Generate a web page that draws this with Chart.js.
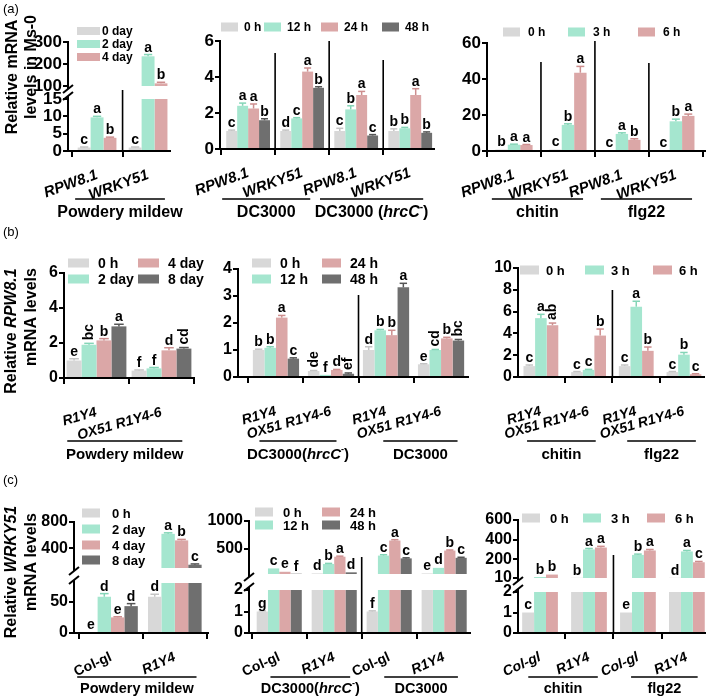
<!DOCTYPE html>
<html>
<head>
<meta charset="utf-8">
<title>Relative mRNA levels</title>
<script src="https://cdn.jsdelivr.net/npm/chart.js@4.4.1/dist/chart.umd.min.js"></script>
<style>
  body { margin: 0; background: #fff; }
  #page { position: relative; width: 709px; height: 700px; overflow: hidden; background: #fff; }
  #page canvas { position: absolute; left: 0; top: 0; }
</style>
</head>
<body>
<div id="page"></div>
<script>
// ---- data: (a) Ms-0 ----
const a1Cats = ['RPW8.1', 'WRKY51'];
const a1Series = ['0 day', '2 day', '4 day'];
const a1Vals = [[1.0, 1.0], [9.7, 235], [3.8, 112]];
const a1Errs = [[0.15, 0.15], [0.3, 8], [0.2, 5]];
const a1Sig = [['c', 'c'], ['a', 'a'], ['b', 'b']];
const a1TopTicks = [100, 200, 300];
const a1BotTicks = [0, 5, 10, 15];
const a1Groups = [['Powdery mildew', 0, 1]];

const a2Cats = ['RPW8.1', 'WRKY51', 'RPW8.1', 'WRKY51'];
const a2Series = ['0 h', '12 h', '24 h', '48 h'];
const a2Vals = [[1.0, 1.0, 1.0, 1.0], [2.4, 1.7, 2.2, 1.15], [2.25, 4.3, 3.0, 3.0], [1.6, 3.4, 0.75, 0.9]];
const a2Errs = [[0.05, 0.05, 0.15, 0.12], [0.15, 0.04, 0.2, 0.05], [0.25, 0.2, 0.2, 0.35], [0.08, 0.06, 0.05, 0.05]];
const a2Sig = [['c', 'd', 'c', 'b'], ['a', 'c', 'b', 'b'], ['a', 'a', 'a', 'a'], ['b', 'b', 'c', 'b']];
const a2Ticks = [0, 2, 4, 6];
const a2Groups = [['DC3000', 0, 1], ['DC3000 (<i>hrcC</i><sup>-</sup>)', 2, 3]];

const a3Cats = ['RPW8.1', 'WRKY51', 'RPW8.1', 'WRKY51'];
const a3Series = ['0 h', '3 h', '6 h'];
const a3Vals = [[0.8, 0.8, 0.5, 0.4], [3.5, 14.5, 9.5, 16.5], [3.3, 43.5, 6.2, 19.5]];
const a3Errs = [[0.2, 0.2, 0.1, 0.1], [0.3, 0.6, 0.6, 1.2], [0.3, 3.5, 0.6, 1.0]];
const a3Sig = [['b', 'c', 'c', 'c'], ['a', 'b', 'a', 'b'], ['a', 'a', 'b', 'a']];
const a3Ticks = [0, 20, 40, 60];
const a3Groups = [['chitin', 0, 1], ['flg22', 2, 3]];

// ---- data: (b) RPW8.1 ----
const b1Cats = ['R1Y4', 'OX51 R1Y4-6'];
const b1Series = ['0 h', '2 day', '4 day', '8 day'];
const b1Vals = [[1.0, 0.42], [1.9, 0.55], [2.15, 1.58], [2.95, 1.68]];
const b1Errs = [[0.1, 0.04], [0.08, 0.05], [0.1, 0.15], [0.12, 0.06]];
const b1Sig = [['e', 'f'], ['bc', 'f'], ['b', 'd'], ['a', 'cd']];
const b1Ticks = [0, 2, 4, 6];
const b1Groups = [['Powdery mildew', 0, 1]];

const b2Cats = ['R1Y4', 'OX51 R1Y4-6', 'R1Y4', 'OX51 R1Y4-6'];
const b2Series = ['0 h', '12 h', '24 h', '48 h'];
const b2Vals = [[1.0, 0.22, 1.0, 0.47], [1.08, 0.08, 1.73, 1.0], [2.2, 0.26, 1.55, 1.43], [0.68, 0.12, 3.32, 1.35]];
const b2Errs = [[0.03, 0.02, 0.12, 0.02], [0.04, 0.01, 0.03, 0.02], [0.08, 0.02, 0.18, 0.04], [0.03, 0.03, 0.15, 0.04]];
const b2Sig = [['b', 'de', 'd', 'e'], ['b', 'f', 'b', 'cd'], ['a', 'd', 'b', 'b'], ['c', 'ef', 'a', 'bc']];
const b2Ticks = [0, 1, 2, 3, 4];
const b2Groups = [['DC3000(<i>hrcC</i><sup>-</sup>)', 0, 1], ['DC3000', 2, 3]];

const b3Cats = ['R1Y4', 'OX51 R1Y4-6', 'R1Y4', 'OX51 R1Y4-6'];
const b3Series = ['0 h', '3 h', '6 h'];
const b3Vals = [[1.0, 0.45, 1.0, 0.45], [5.4, 0.65, 6.45, 2.05], [4.75, 3.8, 2.4, 0.25]];
const b3Errs = [[0.1, 0.05, 0.1, 0.05], [0.35, 0.05, 0.5, 0.2], [0.2, 0.6, 0.35, 0.05]];
const b3Sig = [['c', 'c', 'c', 'c'], ['a', 'c', 'a', 'b'], ['ab', 'b', 'b', 'c']];
const b3Ticks = [0, 2, 4, 6, 8, 10];
const b3Groups = [['chitin', 0, 1], ['flg22', 2, 3]];

// ---- data: (c) WRKY51 ----
const c1Cats = ['Col-gl', 'R1Y4'];
const c1Series = ['0 h', '2 day', '4 day', '8 day'];
const c1Vals = [[1, 58], [58, 620], [25, 520], [43, 150]];
const c1Errs = [[0, 4], [5, 15], [1, 15], [4, 12]];
const c1Sig = [['e', 'd'], ['d', 'a'], ['e', 'b'], ['d', 'c']];
const c1TopTicks = [400, 800];
const c1BotTicks = [0, 50];
const c1Groups = [['Powdery mildew', 0, 1]];

const c2Cats = ['Col-gl', 'R1Y4', 'Col-gl', 'R1Y4'];
const c2Series = ['0 h', '12 h', '24 h', '48 h'];
const c2Vals = [[1, 60, 1, 60], [150, 230, 380, 160], [90, 360, 650, 470], [55, 80, 330, 340]];
const c2Errs = [[0.03, 4, 0.03, 4], [8, 10, 15, 8], [5, 10, 15, 10], [3, 6, 10, 10]];
const c2Sig = [['g', 'd', 'f', 'e'], ['c', 'b', 'c', 'd'], ['e', 'a', 'a', 'b'], ['f', 'd', 'c', 'c']];
const c2TopTicks = [500, 1000];
const c2BotTicks = [0, 1, 2];
const c2Groups = [['DC3000(<i>hrcC</i><sup>-</sup>)', 0, 1], ['DC3000', 2, 3]];

const c3Cats = ['Col-gl', 'R1Y4', 'Col-gl', 'R1Y4'];
const c3Series = ['0 h', '3 h', '6 h'];
const c3Vals = [[1, 12, 1, 12], [20, 300, 245, 280], [45, 320, 290, 170]];
const c3Errs = [[0.02, 1, 0.02, 1], [3, 10, 8, 10], [5, 12, 10, 8]];
const c3Sig = [['c', 'b', 'e', 'd'], ['b', 'a', 'b', 'a'], ['b', 'a', 'a', 'c']];
const c3TopTicks = [10, 200, 400, 600];
const c3BotTicks = [0, 1, 2];
const c3Groups = [['chitin', 0, 1], ['flg22', 2, 3]];

// ---- style ----
// canvases are taller than the page so rotated tick labels are never clipped
const W = 709, H = 800, YW = 60, XH = 110;
const FONT = '"Liberation Sans", Arial, Helvetica, sans-serif';
const COL = ['#d8d8d8', '#a5e6cf', '#dba7a7', '#6f6f6f'];
const ECOL = ['#c4c4c4', '#84d5b7', '#cd8e8e', '#555555'];
const ROW_A = { xRot: 20, xPad: 9, xFont: 15, ulY: 199, gY: 213, gSize: 16, yFont: 17, sigSize: 14 };
const ROW_B = { xRot: 16, xPad: 20, xFont: 14, ulY: 441, gY: 455, gSize: 15, yFont: 16, sigSize: 14 };
const ROW_C = { xRot: 24, xPad: 10, xFont: 14, ulY: 677, gY: 689, gSize: 14.5, yFont: 16, sigSize: 14 };

const panels = [
  { ...ROW_A, cats: a1Cats, series: a1Series, vals: a1Vals, errs: a1Errs, sig: a1Sig, groups: a1Groups,
    segs: [{ min: 100, max: 300, top: 42, bottom: 86, ticks: a1TopTicks }, { min: 0, max: 15, top: 99, bottom: 151, ticks: a1BotTicks }],
    x0: 68, x1: 170, xMin: -0.57, xMax: 1.43, cp: 0.76,
    seps: [[0.5, 90]], ul: [[-0.43, 0.33]],
    leg: [[77, 31], [77, 44], [77, 57]], legBox: [23, 8], legGap: 25, legSize: 12 },
  { ...ROW_A, cats: a2Cats, series: a2Series, vals: a2Vals, errs: a2Errs, sig: a2Sig, groups: a2Groups,
    segs: [{ min: 0, max: 6, top: 41, bottom: 149, ticks: a2Ticks }],
    x0: 220, x1: 434, xMin: -0.52, xMax: 3.44, cp: 0.81,
    seps: [[0.5, 53], [1.5, 41], [2.5, 60]], ul: [[-0.48, 0.15], [-0.67, 0.24]],
    leg: [[221, 27], [264, 27], [321, 27], [382, 27]], legBox: [17, 9], legGap: 23, legSize: 12 },
  { ...ROW_A, cats: a3Cats, series: a3Series, vals: a3Vals, errs: a3Errs, sig: a3Sig, groups: a3Groups,
    segs: [{ min: 0, max: 60, top: 43, bottom: 151, ticks: a3Ticks }],
    x0: 487, x1: 705, xMin: -0.5, xMax: 3.54, cp: 0.69,
    seps: [[0.5, 62], [1.5, 41], [2.5, 63]], ul: [[-0.41, 0.28], [-0.39, 0.3]],
    leg: [[503, 32], [568, 32], [638, 32]], legBox: [17, 9], legGap: 25, legSize: 12 },
  { ...ROW_B, cats: b1Cats, series: b1Series, vals: b1Vals, errs: b1Errs, sig: b1Sig, groups: b1Groups,
    segs: [{ min: 0, max: 6, top: 273, bottom: 378, ticks: b1Ticks }],
    x0: 64, x1: 194, xMin: -0.5, xMax: 1.5, cp: 0.92,
    seps: [], ul: [[-0.45, 0.32]],
    leg: [[68, 263], [68, 279], [138, 263], [138, 279]], legBox: [21, 9], legGap: 30, legSize: 14 },
  { ...ROW_B, cats: b2Cats, series: b2Series, vals: b2Vals, errs: b2Errs, sig: b2Sig, groups: b2Groups,
    segs: [{ min: 0, max: 4, top: 269, bottom: 377, ticks: b2Ticks }],
    x0: 238, x1: 468, xMin: -0.69, xMax: 3.49, cp: 0.84,
    seps: [[1.5, 295]], ul: [[-0.3, 0.1], [-0.05, 0.3]],
    leg: [[252, 263], [252, 279], [322, 263], [322, 279]], legBox: [19, 9], legGap: 28, legSize: 14 },
  { ...ROW_B, cats: b3Cats, series: b3Series, vals: b3Vals, errs: b3Errs, sig: b3Sig, groups: b3Groups,
    segs: [{ min: 0, max: 10, top: 268, bottom: 377, ticks: b3Ticks }],
    x0: 518, x1: 705, xMin: -0.48, xMax: 3.42, cp: 0.73,
    seps: [[1.5, 290]], ul: [[-0.29, 0.15], [-0.19, 0.25]],
    leg: [[520, 270], [585, 270], [653, 270]], legBox: [19, 9], legGap: 26, legSize: 13 },
  { ...ROW_C, cats: c1Cats, series: c1Series, vals: c1Vals, errs: c1Errs, sig: c1Sig, groups: c1Groups, upright: ['Col-gl'],
    segs: [{ min: 100, max: 800, top: 522, bottom: 568, ticks: c1TopTicks }, { min: 0, max: 80, top: 583, bottom: 633, ticks: c1BotTicks }],
    x0: 74, x1: 208, xMin: -0.58, xMax: 1.52, cp: 0.84,
    seps: [], ul: [[-0.53, 0.34]],
    leg: [[82, 513], [82, 529], [82, 545], [82, 560]], legBox: [18, 9], legGap: 30, legSize: 13 },
  { ...ROW_C, cats: c2Cats, series: c2Series, vals: c2Vals, errs: c2Errs, sig: c2Sig, groups: c2Groups, upright: ['Col-gl'],
    segs: [{ min: 50, max: 1000, top: 521, bottom: 574, ticks: c2TopTicks }, { min: 0, max: 2, top: 590, bottom: 633, ticks: c2BotTicks }],
    x0: 249, x1: 470, xMin: -0.55, xMax: 3.47, cp: 0.82,
    seps: [[1.5, 557]], ul: [[-0.16, 0.29], [-0.09, 0.25]],
    leg: [[255, 512], [255, 525], [322, 512], [322, 525]], legBox: [18, 9], legGap: 28, legSize: 13 },
  { ...ROW_C, cats: c3Cats, series: c3Series, vals: c3Vals, errs: c3Errs, sig: c3Sig, groups: c3Groups,
    segs: [{ min: 10, max: 600, top: 520, bottom: 578, ticks: c3TopTicks }, { min: 0, max: 2, top: 592, bottom: 633, ticks: c3BotTicks }],
    x0: 518, x1: 705, xMin: -0.45, xMax: 3.37, cp: 0.73,
    seps: [[1.5, 555]], ul: [[-0.24, 0.18], [-0.14, 0.22]],
    leg: [[522, 518], [583, 518], [647, 518]], legBox: [18, 9], legGap: 28, legSize: 13 }
];

// y titles and panel tags
const rowTitles = [
  { tag: '(a)', tagY: 9, lines: ['Relative mRNA', 'levels in Ms-0'], pos: [[13, 77], [32, 67]] },
  { tag: '(b)', tagY: 232, lines: ['Relative <i>RPW8.1</i>', 'mRNA levels'], pos: [[12, 331], [32, 317]] },
  { tag: '(c)', tagY: 480, lines: ['Relative <i>WRKY51</i>', 'mRNA levels'], pos: [[12, 572], [32, 562]] }
];

const page = document.getElementById('page');

// tiny rich text: <i>..</i> and <sup>..</sup>
function richParts(str) {
  const parts = [];
  const re = /<(i|sup)>(.*?)<\/\1>|([^<]+)/g;
  let m;
  while ((m = re.exec(str))) {
    if (m[3]) parts.push({ t: m[3], it: false, sup: false });
    else parts.push({ t: m[2], it: m[1] === 'i', sup: m[1] === 'sup' });
  }
  return parts;
}
function drawRich(ctx, str, x, y, size, align) {
  const parts = richParts(str);
  const fontOf = q => (q.it ? 'italic ' : '') + 'bold ' + (q.sup ? Math.round(size * 0.6) : size) + 'px ' + FONT;
  let w = 0;
  parts.forEach(q => { ctx.font = fontOf(q); q.w = ctx.measureText(q.t).width; w += q.w; });
  let cx = align === 'center' ? x - w / 2 : align === 'right' ? x - w : x;
  ctx.textAlign = 'left';
  ctx.textBaseline = 'middle';
  parts.forEach(q => {
    ctx.font = fontOf(q);
    ctx.fillText(q.t, cx, q.sup ? y - size * 0.35 : y);
    cx += q.w;
  });
}

function line(ctx, xa, ya, xb, yb) {
  ctx.beginPath(); ctx.moveTo(xa, ya); ctx.lineTo(xb, yb); ctx.stroke();
}

// error bars, letters, breaks, separators, groups, legend
function drawMarks(ch, p, seg, si, last) {
  const ctx = ch.ctx, xs = ch.scales.x, ys = ch.scales.y, a = ch.chartArea;
  ctx.save();
  p.series.forEach((name, i) => {
    const meta = ch.getDatasetMeta(i);
    p.cats.forEach((c, j) => {
      const v = p.vals[i][j], e = p.errs[i][j];
      const here = last ? v <= seg.max : v > seg.min;
      if (!here) return;
      const bar = meta.data[j];
      const x = bar.x, hw = bar.width * 0.32;
      const y0 = ys.getPixelForValue(v), y1 = ys.getPixelForValue(v + e);
      if (y0 - y1 > 0.5) {
        ctx.strokeStyle = ECOL[i];
        ctx.lineWidth = 1.5;
        line(ctx, x, y0, x, y1);
        line(ctx, x - hw, y1, x + hw, y1);
      }
      const s = p.sig[i][j];
      ctx.fillStyle = '#000';
      ctx.font = 'bold ' + p.sigSize + 'px ' + FONT;
      if (s.length > 1) {
        ctx.save();
        ctx.translate(x, y1 - 3);
        ctx.rotate(-Math.PI / 2);
        ctx.textAlign = 'left';
        ctx.textBaseline = 'middle';
        ctx.fillText(s, 0, 0);
        ctx.restore();
      } else {
        ctx.textAlign = 'center';
        ctx.textBaseline = 'alphabetic';
        ctx.fillText(s, x, y1 - 3);
      }
    });
  });

  ctx.strokeStyle = '#000';
  ctx.lineWidth = 2;
  if (p.segs.length > 1) {
    const edge = last ? a.top : a.bottom;
    const yb = last ? a.top - 3 : a.bottom + 3;
    line(ctx, a.left, edge, a.left, yb);
    line(ctx, a.left - 5, yb + 4, a.left + 5, yb - 4);
  }

  if (last) {
    ctx.lineWidth = 1.6;
    p.seps.forEach(([at, top]) => {
      const x = xs.getPixelForValue(at);
      line(ctx, x, top, x, a.bottom);
    });
    p.groups.forEach(([label, from, to], k) => {
      const xa = xs.getPixelForValue(from + p.ul[k][0]);
      const xb = xs.getPixelForValue(to + p.ul[k][1]);
      ctx.strokeStyle = '#000';
      ctx.lineWidth = 1.6;
      line(ctx, xa, p.ulY, xb, p.ulY);
      ctx.fillStyle = '#000';
      drawRich(ctx, label, (xa + xb) / 2, p.gY, p.gSize, 'center');
    });
    p.series.forEach((name, i) => {
      const [bx, by] = p.leg[i];
      ctx.fillStyle = COL[i];
      ctx.fillRect(bx, by - p.legBox[1] / 2, p.legBox[0], p.legBox[1]);
      ctx.fillStyle = '#000';
      ctx.font = 'bold ' + p.legSize + 'px ' + FONT;
      ctx.textAlign = 'left';
      ctx.textBaseline = 'middle';
      ctx.fillText(name, bx + p.legGap, by + 1);
    });
  }
  ctx.restore();
}

function build(p) {
  p.segs.forEach((seg, si) => {
    const last = si === p.segs.length - 1;
    const cv = document.createElement('canvas');
    cv.width = W; cv.height = H;
    page.appendChild(cv);
    new Chart(cv, {
      type: 'bar',
      data: {
        datasets: p.series.map((name, i) => ({
          label: name,
          data: p.cats.map((c, j) => ({ x: j, y: p.vals[i][j] })),
          backgroundColor: COL[i],
          borderWidth: 0,
          categoryPercentage: p.cp,
          barPercentage: 1,
          clip: 0
        }))
      },
      options: {
        responsive: false,
        animation: false,
        events: [],
        layout: { padding: { left: p.x0 - YW, right: W - p.x1, top: seg.top, bottom: H - seg.bottom - (last ? XH : 0) } },
        plugins: { legend: { display: false }, tooltip: { enabled: false } },
        scales: {
          x: {
            type: 'linear', min: p.xMin, max: p.xMax, display: last, offset: false,
            afterFit: s => { s.height = last ? XH : 0; },
            afterBuildTicks: s => { s.ticks = p.cats.map((c, j) => ({ value: j })); },
            grid: { drawOnChartArea: false, drawTicks: true, tickLength: 6, color: '#000', lineWidth: 2, z: 1 },
            border: { display: true, color: '#000', width: 2, z: 1 },
            ticks: {
              autoSkip: false, minRotation: p.xRot, maxRotation: p.xRot, padding: p.xPad, color: '#000', z: 1,
              font: c => ({ family: FONT, size: p.xFont, weight: 'bold',
                style: (p.upright || []).includes(p.cats[c.index]) ? 'normal' : 'italic' }),
              callback: v => p.cats[v]
            }
          },
          y: {
            type: 'linear', min: seg.min, max: seg.max,
            afterFit: s => { s.width = YW; },
            afterBuildTicks: s => { s.ticks = seg.ticks.map(v => ({ value: v })); },
            grid: { drawOnChartArea: false, drawTicks: true, tickLength: 5, color: '#000', lineWidth: 2, z: 1 },
            border: { display: true, color: '#000', width: 2, z: 1 },
            ticks: { autoSkip: false, color: '#000', padding: 1, z: 1, font: { family: FONT, size: p.yFont, weight: 'bold' }, callback: v => String(v) }
          }
        }
      },
      plugins: [{ id: 'marks', afterDatasetsDraw: ch => drawMarks(ch, p, seg, si, last) }]
    });
  });
}

panels.forEach(build);

// row titles
const tcv = document.createElement('canvas');
tcv.width = W; tcv.height = H;
page.appendChild(tcv);
const tctx = tcv.getContext('2d');
tctx.fillStyle = '#000';
rowTitles.forEach(r => {
  tctx.font = '13px ' + FONT;
  tctx.textAlign = 'left';
  tctx.textBaseline = 'middle';
  tctx.fillText(r.tag, 3, r.tagY);
  r.lines.forEach((txt, k) => {
    tctx.save();
    tctx.translate(r.pos[k][0], r.pos[k][1]);
    tctx.rotate(-Math.PI / 2);
    drawRich(tctx, txt, 0, 0, 16, 'center');
    tctx.restore();
  });
});
</script>
</body>
</html>
